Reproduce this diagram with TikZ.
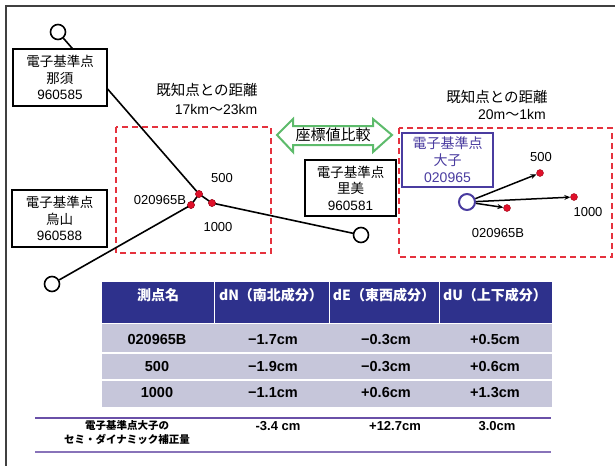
\documentclass[tikz,border=0pt]{standalone}
\usepackage{fontspec}
\setmainfont{Liberation Sans}
\newfontfamily\jp{Noto Sans CJK JP}
\usetikzlibrary{arrows.meta}
\definecolor{dred}{HTML}{E5323E}
\definecolor{dotred}{HTML}{E0102A}
\definecolor{purp}{HTML}{4A3CA0}
\definecolor{hdr}{HTML}{2E318C}
\definecolor{rowc}{HTML}{C6C6DA}
\definecolor{grn}{HTML}{5DBB6B}
\definecolor{linep}{HTML}{6A50A8}
\begin{document}
\begin{tikzpicture}[x=1pt,y=-1pt,
  jbox/.style={draw=black,line width=1.6pt,fill=white,inner sep=0pt,align=center,
    font=\fontsize{13.5}{16.5}\selectfont},
  stn/.style={circle,draw=black,line width=1.6pt,fill=white,minimum size=15pt,inner sep=0pt},
  rdot/.style={circle,fill=dotred,draw=dotred!70!black,line width=0.4pt,minimum size=7pt,inner sep=0pt},
  lbl/.style={inner sep=0pt,font=\fontsize{13}{15}\selectfont},
  conn/.style={line width=1.6pt,black},
  redbox/.style={draw=dred,line width=1.6pt,dash pattern=on 6pt off 4pt},
  hdrtxt/.style={inner sep=0pt,text=white,font=\jp\bfseries\fontsize{14}{16}\selectfont},
  celltxt/.style={inner sep=0pt,font=\bfseries\fontsize{14.5}{16}\selectfont},
  semival/.style={inner sep=0pt,font=\bfseries\fontsize{13}{15}\selectfont},
  arr/.style={line width=1.5pt,-{Stealth[length=6pt,width=5pt]}}
]
\useasboundingbox (0,0) rectangle (615,466);
% frame
\draw[line width=1.6pt,black!75] (615,6) -- (6,6) -- (6,466);

% red dashed areas
\draw[redbox] (116,127) rectangle (271,253);
\draw[redbox] (399,128) rectangle (612,257);

% stations and lines (left)
\node[stn] (cnasu) at (58,32) {};
\node[stn] (ckara) at (52,284) {};
\node[stn] (csato) at (361,235) {};
\node[rdot] (p500) at (199,194) {};
\node[rdot] (pB) at (191,205) {};
\node[rdot] (p1000) at (212,203) {};
\draw[conn] (cnasu) -- (p500.center);
\draw[conn] (ckara) -- (pB.center) -- (p500.center) -- (p1000.center) -- (csato);
\node[rdot] at (p500) {};
\node[rdot] at (pB) {};
\node[rdot] at (p1000) {};

% boxes
\node[jbox,minimum width=94pt,minimum height=57pt] (bnasu) at (60,77.5)
  {{\jp 電子基準点}\\{\jp 那須}\\960585};
\node[jbox,minimum width=95pt,minimum height=57pt] (bkara) at (59.5,218.5)
  {{\jp 電子基準点}\\{\jp 烏山}\\960588};
\node[jbox,minimum width=91pt,minimum height=56pt] (bsato) at (350.5,188)
  {{\jp 電子基準点}\\{\jp 里美}\\960581};

% labels left
\node[lbl] (l500) at (222,178) {500};
\node[lbl] (lB) at (160,200) {020965B};
\node[lbl] (l1000) at (218,227) {1000};

\node[inner sep=0pt,font=\jp\fontsize{14.5}{16}\selectfont] (d1a) at (207,90) {既知点との距離};
\node[inner sep=0pt,font=\fontsize{14}{16}\selectfont] (d1b) at (216,109) {17km{\jp 〜}23km};
\node[inner sep=0pt,font=\jp\fontsize{14.5}{16}\selectfont] (d2a) at (497,97) {既知点との距離};
\node[inner sep=0pt,font=\fontsize{14}{16}\selectfont] (d2b) at (512,114) {20m{\jp 〜}1km};

% green double arrow
\draw[grn,line width=2pt,fill=white,line join=miter]
  (277,135) -- (293,119) -- (293,126) -- (373,126) -- (373,119) -- (392,135)
  -- (373,152) -- (373,145) -- (293,145) -- (293,152) -- cycle;
\node[inner sep=0pt,font=\jp\fontsize{15}{16}\selectfont] (cmp) at (333,135) {座標値比較};

% right area
\node[jbox,draw=purp,text=purp,line width=1.6pt,minimum width=91pt,minimum height=54pt,
  font=\fontsize{14}{17}\selectfont] (bota) at (447.5,160)
  {{\jp 電子基準点}\\{\jp 大子}\\020965};
\node[stn,draw=purp,line width=2pt,minimum size=16pt] (cota) at (467,202) {};
\node[rdot] (q500) at (540,173) {};
\node[rdot] (q1000) at (574,197) {};
\node[rdot] (qB) at (507,208) {};
\draw[arr] (cota) -- (q500);
\draw[arr] (cota) -- (q1000);
\draw[arr] (cota) -- (qB);
\node[lbl] (m500) at (541,157) {500};
\node[lbl] (m1000) at (588,212) {1000};
\node[lbl] (mB) at (498,233) {020965B};

% table
\fill[hdr] (102,282) rectangle (552,323);
\draw[white,line width=0.8pt] (214,282) -- (214,323) (329,282) -- (329,323) (439,282) -- (439,323);
\fill[rowc] (102,324) rectangle (552,352);
\fill[rowc] (102,354) rectangle (552,379);
\fill[rowc] (102,381) rectangle (552,407);
\node[hdrtxt] (h1) at (158,295) {測点名};
\node[hdrtxt] (h2) at (271,295) {dN（南北成分）};
\node[hdrtxt] (h3) at (384,295) {dE（東西成分）};
\node[hdrtxt] (h4) at (495,295) {dU（上下成分）};
\node[celltxt] (r1a) at (157,340) {020965B};
\node[celltxt] (r1b) at (273,340) {−1.7cm};
\node[celltxt] (r1c) at (386,340) {−0.3cm};
\node[celltxt] (r1d) at (495,340) {+0.5cm};
\node[celltxt] (r2a) at (157,367) {500};
\node[celltxt] (r2b) at (273,367) {−1.9cm};
\node[celltxt] (r2c) at (386,367) {−0.3cm};
\node[celltxt] (r2d) at (495,367) {+0.6cm};
\node[celltxt] (r3a) at (157,393) {1000};
\node[celltxt] (r3b) at (273,393) {−1.1cm};
\node[celltxt] (r3c) at (386,393) {+0.6cm};
\node[celltxt] (r3d) at (495,393) {+1.3cm};

% bottom row
\draw[linep,line width=1.2pt] (35,418) -- (551,418);
\draw[linep!80,line width=1.8pt] (35,452) -- (551,452);
\node[inner sep=0pt,align=center,font=\jp\bfseries\fontsize{10.5}{14}\selectfont] (semi) at (127,433)
  {電子基準点大子の\\セミ・ダイナミック補正量};
\node[semival] (s1) at (278,426) {-3.4 cm};
\node[semival] (s2) at (395,426) {+12.7cm};
\node[semival] (s3) at (497,426) {3.0cm};
\end{tikzpicture}
\end{document}
